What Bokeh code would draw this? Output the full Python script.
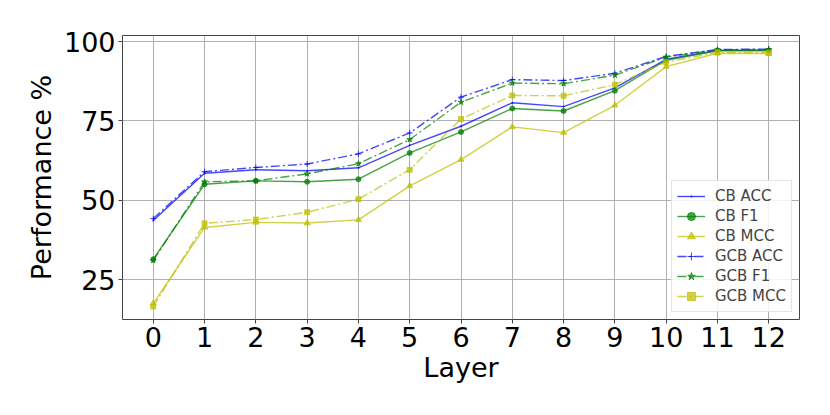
from bokeh.plotting import figure
from bokeh.models import Range1d, FixedTicker
from bokeh.embed import file_html
from bokeh.resources import INLINE

layers = list(range(13))
cb_acc = [43.6, 58.5, 59.6, 59.3, 60.2, 67.3, 73.3, 80.7, 79.5, 85.4, 94.4, 97.2, 97.3]
cb_f1 = [31.4, 55.0, 56.1, 55.8, 56.6, 64.9, 71.5, 78.9, 78.1, 84.5, 94.1, 97.1, 97.1]
cb_mcc = [17.5, 41.4, 43.0, 42.8, 43.8, 54.5, 62.8, 73.1, 71.3, 79.9, 92.1, 96.3, 96.2]
gcb_acc = [44.2, 59.0, 60.3, 61.4, 64.6, 71.2, 82.5, 88.0, 87.7, 90.0, 95.3, 97.5, 97.6]
gcb_f1 = [31.0, 55.8, 56.1, 58.3, 61.5, 69.1, 80.9, 86.9, 86.7, 89.4, 95.1, 97.4, 97.5]
gcb_mcc = [16.5, 42.7, 43.9, 46.2, 50.3, 59.6, 75.6, 83.0, 82.9, 86.4, 93.5, 96.6, 96.5]
y_ticks = [25, 50, 75, 100]

FONT = "DejaVu Sans"
p = figure(width=814, height=399, output_backend="svg", toolbar_location=None,
           x_range=Range1d(-0.6, 12.6), y_range=Range1d(12.4, 101.9),
           min_border_left=122, min_border_right=15, min_border_top=35, min_border_bottom=80)
p.outline_line_color = "#444444"
p.outline_line_width = 1
p.background_fill_color = "white"

series = [
    ("CB ACC", cb_acc, "blue", "solid", "dot", 8),
    ("CB F1", cb_f1, "green", "solid", "circle", 5),
    ("CB MCC", cb_mcc, "#bfbf00", "solid", "triangle", 6),
    ("GCB ACC", gcb_acc, "blue", "9 3 2 3", "cross", 6),
    ("GCB F1", gcb_f1, "green", "9 3 2 3", "star", 6),
    ("GCB MCC", gcb_mcc, "#bfbf00", "9 3 2 3", "square", 5),
]
for label, vals, col, dash, marker, size in series:
    p.line(layers, vals, line_color=col, line_dash=dash, line_width=1.4, line_alpha=0.72,
           legend_label=label)
    p.scatter(layers, vals, marker=marker, size=size, fill_color=col, line_color=col,
              fill_alpha=0.72, line_alpha=0.72, legend_label=label)

p.xaxis.ticker = FixedTicker(ticks=layers)
p.yaxis.ticker = FixedTicker(ticks=y_ticks)
for ax in (p.xaxis, p.yaxis):
    ax.major_label_text_font = FONT
    ax.major_label_text_font_size = "27px"
    ax.major_label_text_color = "black"
    ax.axis_label_text_font = FONT
    ax.axis_label_text_font_size = "27px"
    ax.axis_label_text_font_style = "normal"
    ax.axis_label_text_color = "black"
    ax.axis_line_color = None
    ax.major_tick_line_color = "#444444"
    ax.major_tick_out = 4
    ax.major_tick_in = 0
    ax.minor_tick_line_color = None
    ax.major_label_standoff = 3
p.xaxis.axis_label = "Layer"
p.yaxis.axis_label = "Performance %"
p.xaxis.axis_label_standoff = 2
p.yaxis.axis_label_standoff = 4

p.xgrid.grid_line_color = "#b0b0b0"
p.ygrid.grid_line_color = "#b0b0b0"
p.xgrid.grid_line_width = 1
p.ygrid.grid_line_width = 1

lg = p.legend[0]
lg.location = "bottom_right"
lg.margin = 7
lg.padding = 5
lg.spacing = 0
lg.label_text_font = FONT
lg.label_text_font_size = "15px"
lg.glyph_width = 28
lg.glyph_height = 20
lg.label_height = 20
lg.label_standoff = 10
lg.border_line_color = "#cccccc"
lg.border_line_width = 1
lg.background_fill_alpha = 0.85

open("out.html", "w").write(file_html(p, INLINE))
